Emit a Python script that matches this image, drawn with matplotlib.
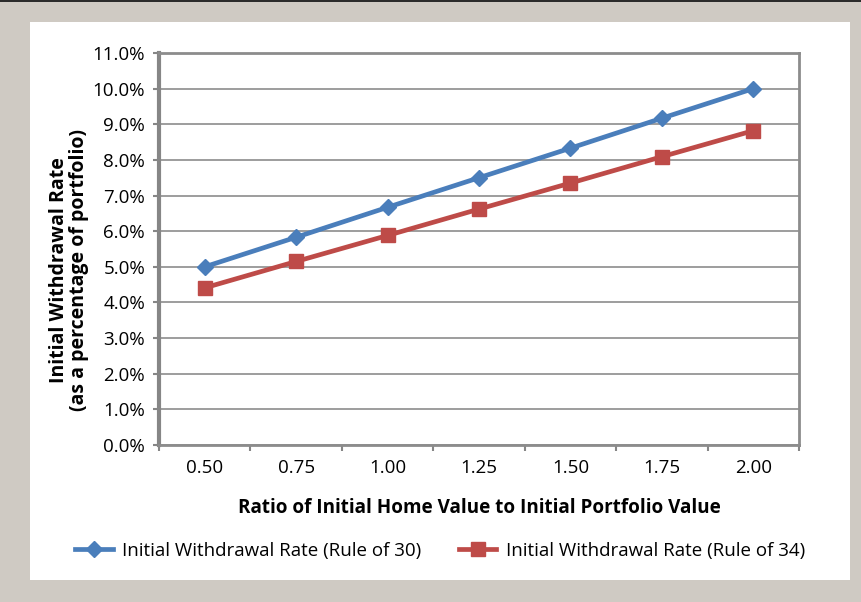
import numpy as np
import matplotlib.pyplot as plt
from matplotlib.patches import Rectangle

plt.rcParams['font.family'] = ['Open Sans', 'DejaVu Sans']

# ratio of initial home value to initial portfolio value
ratios = ["0.50", "0.75", "1.00", "1.25", "1.50", "1.75", "2.00"]
# initial withdrawal rate, %
rule_30 = [5.00, 5.83, 6.67, 7.50, 8.33, 9.17, 10.00]
rule_34 = [4.41, 5.15, 5.88, 6.62, 7.35, 8.09, 8.82]

W, H = 861, 602
fig = plt.figure(figsize=(W / 100, H / 100), dpi=100, facecolor="#cfcac3")

# white card and the dark rule along the top edge
fig.patches.append(Rectangle((30 / W, 1 - 580 / H), 820 / W, 558 / H,
                             transform=fig.transFigure, facecolor="white",
                             edgecolor="none", zorder=-2))
fig.patches.append(Rectangle((0, 1 - 2 / H), 1, 2 / H, transform=fig.transFigure,
                             facecolor="#2b2b2b", edgecolor="none", zorder=-2))

ax = fig.add_axes([159 / W, 1 - 445 / H, 640 / W, 392 / H])
ax.set_zorder(2)
ax.set_facecolor("none")

x = np.arange(len(ratios))
ax.plot(x, rule_30, color="#4a7ebb", lw=3.4, marker="D", ms=8.5,
        label="Initial Withdrawal Rate (Rule of 30)", zorder=3)
ax.plot(x, rule_34, color="#be4b48", lw=3.4, marker="s", ms=9.5,
        label="Initial Withdrawal Rate (Rule of 34)", zorder=3)

ax.set_xlim(-0.5, len(ratios) - 0.5)
ax.set_ylim(0, 11)
ax.set_yticks(np.arange(0, 12, 1))
ax.set_yticklabels([f"{v:.1f}%" for v in range(12)])
ax.set_xticks(x)
ax.set_xticklabels(ratios)
ax.set_xticks(np.arange(-0.5, len(ratios), 1), minor=True)
ax.tick_params(axis="x", which="major", length=0, pad=10, labelsize=13.5)
ax.tick_params(axis="x", which="minor", length=4, width=1.5, color="#868686", direction="out")
ax.tick_params(axis="y", length=4, width=1.5, color="#868686", pad=6, labelsize=13.5)

ax.grid(axis="y", color="#8c8c8c", lw=1.2)
ax.set_axisbelow(True)
for side in ["top", "right", "bottom"]:
    ax.spines[side].set_color("#8c8c8c")
    ax.spines[side].set_linewidth(2)
ax.spines["left"].set_color("#868686")
ax.spines["left"].set_linewidth(3)

ax.set_xlabel("Ratio of Initial Home Value to Initial Portfolio Value",
              fontsize=13.6, fontweight="bold", labelpad=15)
fig.text(69 / W, 1 - 270 / H, "Initial Withdrawal Rate\n(as a percentage of portfolio)",
         rotation=90, ha="center", va="center", fontsize=14, fontweight="bold",
         linespacing=0.95, multialignment="center")

fig.legend(loc="center", bbox_to_anchor=(440 / W, 1 - 551 / H), ncol=2,
           frameon=False, fontsize=13.5, handlelength=2.0, columnspacing=2.0,
           handletextpad=0.5)

fig.savefig("out.png", dpi=100, facecolor=fig.get_facecolor())
